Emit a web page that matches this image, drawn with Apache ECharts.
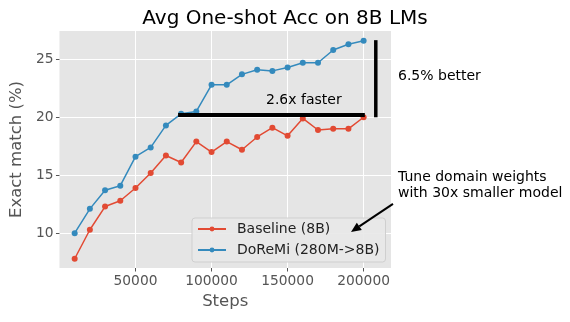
<!DOCTYPE html>
<html><head><meta charset="utf-8">
<script src="https://cdn.jsdelivr.net/npm/echarts@6/dist/echarts.min.js"></script>
<style>html,body{margin:0;padding:0;background:#fff}#c{width:570px;height:322px}</style>
</head><body><div id="c"></div>
<script>
const steps = [10000,20000,30000,40000,50000,60000,70000,80000,90000,100000,110000,120000,130000,140000,150000,160000,170000,180000,190000,200000];
const baseline = [7.8,10.3,12.3,12.8,13.9,15.2,16.7,16.1,17.9,17.0,17.9,17.2,18.3,19.1,18.4,19.9,18.9,19.0,19.0,20.0];
const doremi = [10.0,12.1,13.7,14.1,16.6,17.4,19.3,20.3,20.5,22.8,22.8,23.7,24.1,24.0,24.3,24.7,24.7,25.8,26.3,26.6];
const yTicks = [10,15,20,25];
const xTicks = [50000,100000,150000,200000];
// annotation segments: [x1, y1, x2, y2]
const fasterLine = [78000, 20.2, 200800, 20.2];
const betterLine = [208000, 26.65, 208000, 20.0];
const arrowLine = [219300, 12.53, 191700, 10.11];

const FONT = 'DejaVu Sans';
const chart = echarts.init(document.getElementById('c'), null, {renderer:'canvas'});
const segs = [
  fasterLine.concat([4, 0]),
  betterLine.concat([3.5, 0]),
  arrowLine.concat([2, 1])
];
chart.setOption({
  animation: false,
  title: {text: 'Avg One-shot Acc on 8B LMs', left: 'center', top: 4,
    textStyle: {fontFamily: FONT, fontSize: 20, fontWeight: 'normal', color: '#000'}},
  grid: {left: 49, right: 179, top: 31, bottom: 54, show: true, backgroundColor: '#E5E5E5', borderWidth: 0},
  xAxis: {type: 'value', min: 0, max: 218000, interval: 50000,
    name: 'Steps', nameLocation: 'middle', nameGap: 25,
    nameTextStyle: {fontFamily: FONT, fontSize: 16.5, color: '#555'},
    axisLine: {show: false},
    axisTick: {show: true, length: 3.5, lineStyle: {color: '#555'}, customValues: xTicks},
    axisLabel: {fontFamily: FONT, fontSize: 13.8, color: '#555', margin: 6, customValues: xTicks,
      formatter: v => String(v)},
    splitLine: {show: true, lineStyle: {color: '#fff', width: 1}}},
  yAxis: {type: 'value', min: 7.0, max: 27.44,
    name: 'Exact match (%)', nameLocation: 'middle', nameGap: 33,
    nameTextStyle: {fontFamily: FONT, fontSize: 16.5, color: '#555'},
    axisLine: {show: false},
    axisTick: {show: true, length: 3.5, lineStyle: {color: '#555'}, customValues: yTicks},
    axisLabel: {fontFamily: FONT, fontSize: 13.8, color: '#555', margin: 6, customValues: yTicks,
      formatter: v => String(v)},
    splitLine: {show: true, lineStyle: {color: '#fff', width: 1}}},
  legend: {orient: 'vertical', left: 192, top: 218, itemWidth: 28, itemHeight: 6, itemGap: 5,
    padding: [3, 6, 4, 5], backgroundColor: 'rgba(232,232,232,0.9)', borderColor: '#cfcfcf', borderWidth: 1, borderRadius: 3,
    textStyle: {fontFamily: FONT, fontSize: 14, color: '#222', padding: [0, 0, 0, 6], lineHeight: 16},
    data: ['Baseline (8B)', 'DoReMi (280M->8B)']},
  series: [
    {name: 'Baseline (8B)', type: 'line', data: steps.map((s, i) => [s, baseline[i]]),
      symbol: 'circle', symbolSize: 6, color: '#E24A33', lineStyle: {width: 1.5}, z: 3},
    {name: 'DoReMi (280M->8B)', type: 'line', data: steps.map((s, i) => [s, doremi[i]]),
      symbol: 'circle', symbolSize: 6, color: '#348ABD', lineStyle: {width: 1.5}, z: 3},
    {type: 'custom', clip: false, z: 5, data: segs,
      renderItem: function (params, api) {
        const p1 = api.coord([api.value(0), api.value(1)]);
        const p2 = api.coord([api.value(2), api.value(3)]);
        const w = api.value(4);
        const arrow = api.value(5);
        const children = [];
        let end = p2;
        if (arrow) {
          const dx = p2[0] - p1[0], dy = p2[1] - p1[1];
          const L = Math.sqrt(dx*dx + dy*dy);
          const ux = dx / L, uy = dy / L;
          const hl = 10, hw = 4.5;
          const bx = p2[0] - ux*hl, by = p2[1] - uy*hl;
          end = [bx, by];
          children.push({type: 'polygon', shape: {points: [p2, [bx - uy*hw, by + ux*hw], [bx + uy*hw, by - ux*hw]]},
            style: {fill: '#000'}});
        }
        children.unshift({type: 'line', shape: {x1: p1[0], y1: p1[1], x2: end[0], y2: end[1]},
          style: {stroke: '#000', lineWidth: w}});
        return {type: 'group', children: children};
      }}
  ],
  graphic: [
    {type: 'text', left: 266, top: 93, style: {text: '2.6x faster', font: '14px "DejaVu Sans"', fill: '#000'}},
    {type: 'text', left: 398, top: 69, style: {text: '6.5% better', font: '14px "DejaVu Sans"', fill: '#000'}},
    {type: 'text', left: 398, top: 169, style: {text: 'Tune domain weights\nwith 30x smaller model', font: '14px "DejaVu Sans"', fill: '#000', lineHeight: 16}}
  ]
});
</script></body></html>
